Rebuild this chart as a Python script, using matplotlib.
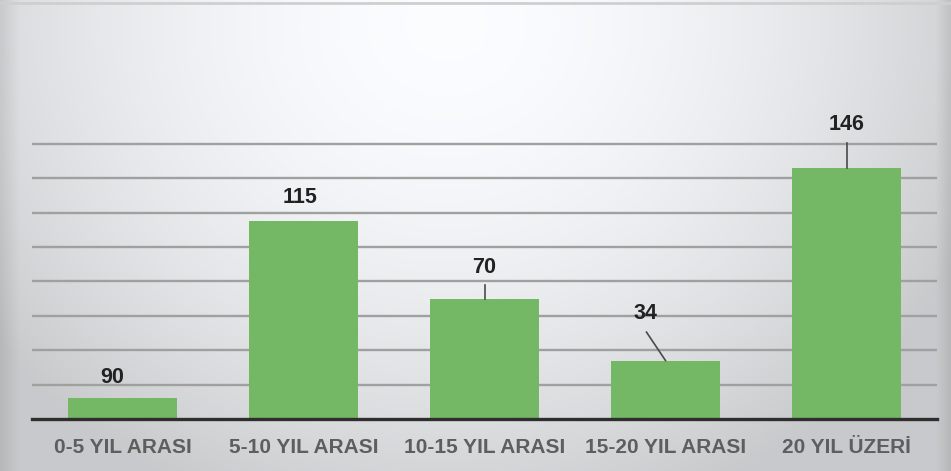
import numpy as np
import matplotlib
matplotlib.use('Agg')
import matplotlib.pyplot as plt
from matplotlib import font_manager

categories = ['0-5 YIL ARASI', '5-10 YIL ARASI', '10-15 YIL ARASI', '15-20 YIL ARASI', '20 YIL ÜZERİ']
# bar heights as drawn in the picture (first bar is drawn much shorter than its label)
bar_heights = [12, 115, 70, 34, 146]
value_labels = ['90', '115', '70', '34', '146']
grid_values = [20, 40, 60, 80, 100, 120, 140, 160]

names = {f.name for f in font_manager.fontManager.ttflist}
narrow = 'Liberation Sans Narrow' if 'Liberation Sans Narrow' in names else 'Liberation Sans'

fig = plt.figure(figsize=(9.51, 4.71), dpi=100)

# background: bright spot near top centre, grey towards the edges
bg = fig.add_axes([0, 0, 1, 1])
yy, xx = np.mgrid[0:1:200j, 0:1:400j]
d = np.sqrt(((xx - 0.47) / 0.6) ** 2 + ((yy - 0.05) / 1.1) ** 2)
shade = np.clip(1 - 0.2 * d ** 1.8, 0.8, 1.0)
edge = np.clip((xx - 0.985) / 0.015, 0, 1) + np.clip((0.02 - xx) / 0.02, 0, 1)
shade = shade - 0.07 * np.clip(edge, 0, 1)
img = np.dstack([shade * 0.985, shade * 0.99, shade])
bg.imshow(img, aspect='auto', extent=[0, 1, 0, 1], origin='upper')
bg.plot([0.0, 1.0], [0.994, 0.994], color='#cfcfcf', lw=2)
bg.set_xlim(0, 1)
bg.set_ylim(0, 1)
bg.axis('off')

ax = fig.add_axes([32 / 951, 52 / 471, 905 / 951, 419 / 471])
ax.patch.set_alpha(0)
x = np.arange(len(categories))

for g in grid_values:
    ax.axhline(g, color='#a0a0a0', lw=1.7, zorder=1)
ax.axhline(0, color='#2e2e2e', lw=2.4, zorder=4, clip_on=False)

ax.bar(x, bar_heights, width=0.6, color='#74b865', zorder=3)

# label placement (dx, dy above bar top) and leader lines
label_pos = [(-0.055, 12), (-0.02, 13.5), (0.0, 18), (-0.11, 27.5), (0.0, 25)]
leaders = [None, None, (0.0, 0.0, 0.0, 8), (0.0, 0.0, -0.105, 16.5), (0.0, 0.0, 0.0, 14.5)]
for i, (h, lab) in enumerate(zip(bar_heights, value_labels)):
    dx, dy = label_pos[i]
    ax.text(i + dx, h + dy, lab, ha='center', va='center', fontsize=15.5,
            fontweight='bold', color='#222222', family='Liberation Sans', zorder=5)
    if leaders[i] is not None:
        x0, y0, x1, y1 = leaders[i]
        ax.plot([i + x0, i + x1], [h + y0, h + y1], color='#4a4a4a', lw=1.2, zorder=5)

ax.set_xlim(-0.5, 4.5)
ax.set_ylim(0, 243.6)
ax.set_xticks(x)
ax.set_xticklabels(categories, fontsize=15, fontweight='bold', color='#5e5e5e', family=narrow)
ax.tick_params(axis='x', length=0, pad=14)
ax.set_yticks([])
for s in ax.spines.values():
    s.set_visible(False)

fig.savefig('out.png', dpi=100)
